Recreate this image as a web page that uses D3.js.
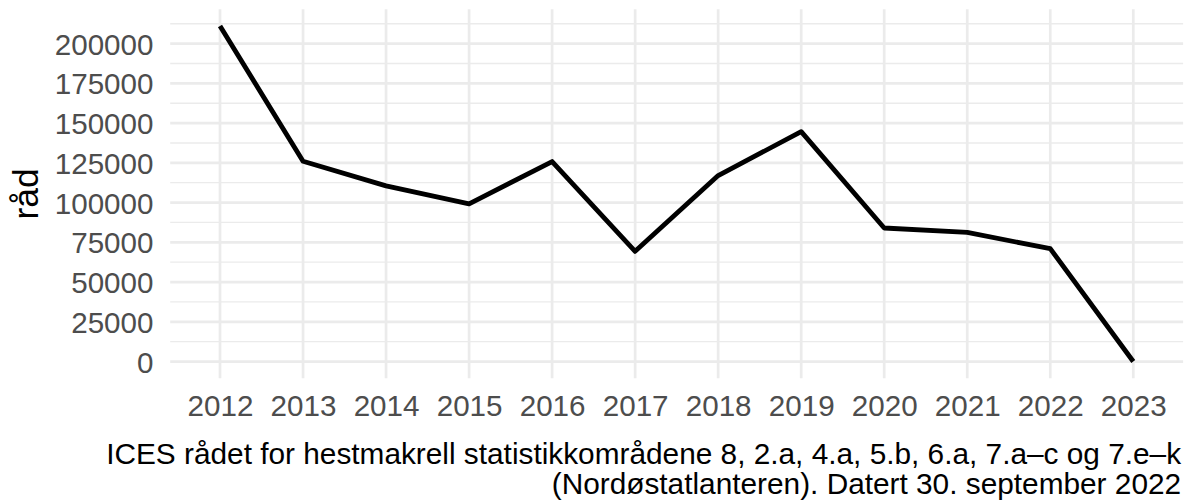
<!DOCTYPE html>
<html>
<head>
<meta charset="utf-8">
<script src="https://cdn.jsdelivr.net/npm/d3@7"></script>
<style>
  html, body { margin: 0; padding: 0; background: #fff; }
  svg { display: block; font-family: "Liberation Sans", Arial, sans-serif; }
</style>
</head>
<body>
<svg id="chart" width="1192" height="501"></svg>
<script>
const years = ["2012","2013","2014","2015","2016","2017","2018","2019","2020","2021","2022","2023"];
const advice = [211000,126000,110500,99200,125800,69300,117000,144600,84000,81200,71000,0];
const yTicks = [0,25000,50000,75000,100000,125000,150000,175000,200000];
const yMinor = [12500,37500,62500,87500,112500,137500,162500,187500,212500];
const yTitle = "råd";
const captionLines = [
  "ICES rådet for hestmakrell statistikkområdene 8, 2.a, 4.a, 5.b, 6.a, 7.a–c og 7.e–k",
  "(Nordøstatlanteren). Datert 30. september 2022"
];

const svg = d3.select("#chart");
const panel = {left: 170.2, right: 1183.1, top: 9.3, bottom: 378.3};

const maxV = d3.max(advice), minV = d3.min(advice);
const span = maxV - minV;
const y = d3.scaleLinear()
  .domain([minV - 0.05*span, maxV + 0.05*span])
  .range([panel.bottom, panel.top]);
const x = d3.scalePoint()
  .domain(years)
  .range([panel.left, panel.right])
  .padding(0.6);

const grid = svg.append("g");
grid.selectAll("line.minor").data(yMinor).join("line")
  .attr("x1", panel.left).attr("x2", panel.right)
  .attr("y1", d => y(d)).attr("y2", d => y(d))
  .attr("stroke", "#EBEBEB").attr("stroke-width", 1.4);
grid.selectAll("line.majorY").data(yTicks).join("line")
  .attr("x1", panel.left).attr("x2", panel.right)
  .attr("y1", d => y(d)).attr("y2", d => y(d))
  .attr("stroke", "#EBEBEB").attr("stroke-width", 2.7);
grid.selectAll("line.majorX").data(years).join("line")
  .attr("y1", panel.top).attr("y2", panel.bottom)
  .attr("x1", d => x(d)).attr("x2", d => x(d))
  .attr("stroke", "#EBEBEB").attr("stroke-width", 2.7);

const line = d3.line().x((d,i) => x(years[i])).y(d => y(d));
svg.append("path").datum(advice)
  .attr("d", line)
  .attr("fill", "none")
  .attr("stroke", "#000")
  .attr("stroke-width", 4.8)
  .attr("stroke-linejoin", "round");

// x axis
const gx = svg.append("g").attr("transform", `translate(0,416)`)
  .call(d3.axisBottom(x).tickSize(0).tickPadding(0));
gx.select(".domain").remove();
gx.selectAll("text")
  .attr("y", 0).attr("dy", 0)
  .attr("fill", "#4D4D4D")
  .style("font-size", "29.6px")
  .style("font-family", '"Liberation Sans", Arial, sans-serif');

// y axis
const gy = svg.append("g").attr("transform", `translate(153.5,0)`)
  .call(d3.axisLeft(y).tickValues(yTicks).tickFormat(d3.format("d")).tickSize(0).tickPadding(0));
gy.select(".domain").remove();
gy.selectAll("text")
  .attr("x", 0).attr("dy", "0.36em")
  .attr("fill", "#4D4D4D")
  .style("font-size", "29.6px")
  .style("font-family", '"Liberation Sans", Arial, sans-serif');

// y title
svg.append("text")
  .attr("transform", `translate(38,${(panel.top+panel.bottom)/2}) rotate(-90)`)
  .attr("text-anchor", "middle")
  .attr("fill", "#000")
  .style("font-size", "35.5px")
  .text(yTitle);

// caption
svg.append("g").selectAll("text").data(captionLines).join("text")
  .attr("x", panel.right - 2)
  .attr("y", (d,i) => 463.5 + i*30)
  .attr("text-anchor", "end")
  .attr("fill", "#000")
  .style("font-size", "29.8px")
  .text(d => d);
</script>
</body>
</html>
